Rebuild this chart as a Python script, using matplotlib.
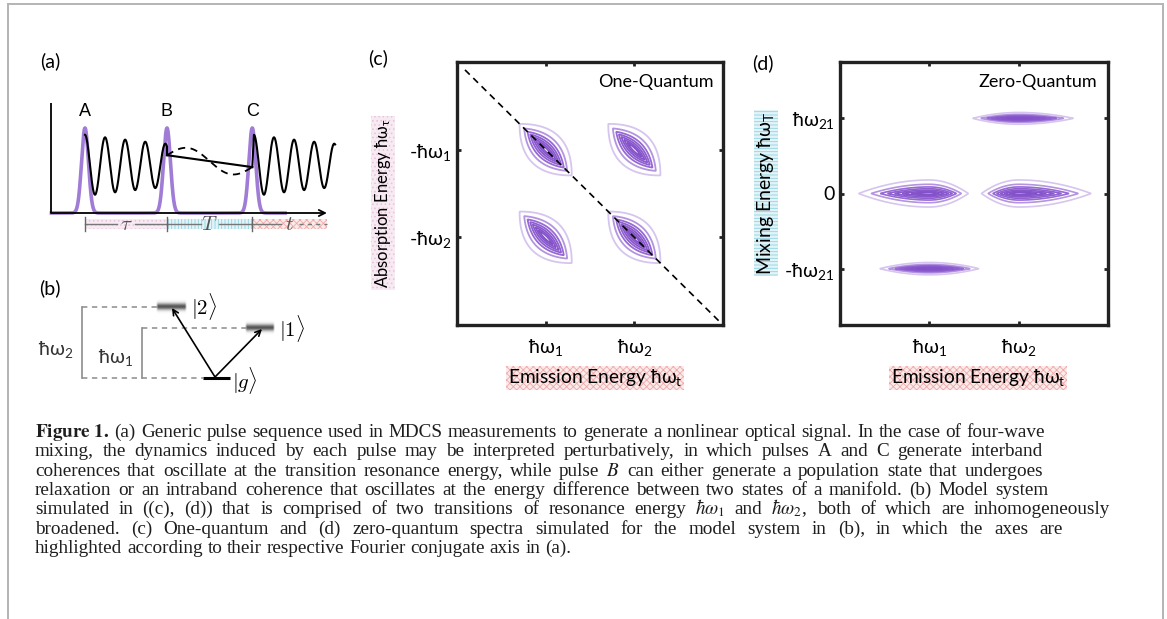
import re
import numpy as np
import matplotlib
matplotlib.use("Agg")
import matplotlib.pyplot as plt
from matplotlib.patches import Rectangle, FancyArrowPatch
from matplotlib.lines import Line2D

# ── figure geometry (pixels) ────────────────────────────────────────────────
FIG_W, FIG_H = 1167, 619

plt.rcParams["mathtext.fontset"] = "stix"
plt.rcParams["mathtext.rm"] = "Lato"
plt.rcParams["mathtext.it"] = "Lato:italic"
plt.rcParams["mathtext.bf"] = "Lato:bold"
plt.rcParams["hatch.linewidth"] = 0.6

SANS = ["Lato", "Noto Sans", "DejaVu Sans"]
SERIF = ["Liberation Serif", "DejaVu Serif"]

# ── panel (a): pulse sequence ───────────────────────────────────────────────
PULSE_T = [0.0, 1.0, 2.04]
PULSE_LABELS = ["A", "B", "C"]
PULSE_SIGMA = 0.042
OSC_PERIOD = 0.245
OSC_MEAN = 0.56
OSC_AMP = 0.36
OSC_DECAY = 0.35
POP_LEVELS = [0.68, 0.54]          # population between B and C
COH_AMP = 0.12                     # intraband coherence (dashed)
COH_PERIOD = 1.04
BAR_EDGES = [0.0, 1.0, 2.04, 2.95]
BAR_SYMBOLS = [r"$\tau$", r"$T$", r"$t$"]
BAR_FACE = ["#f8eaf3", "#e2f4f8", "#fbeaea"]
BAR_HATCH_COLOR = ["#e7c3da", "#8fd3e3", "#eeaaaa"]
BAR_HATCH = ["....", "|||||", "xxxxx"]

# ── panel (b): level scheme ─────────────────────────────────────────────────
LEVEL_NAMES = [r"$|g\rangle$", r"$|1\rangle$", r"$|2\rangle$"]
LEVEL_E = [0.0, 1.0, 1.42]
LEVEL_SPAN = [(203, 230), (247, 273), (158, 185)]   # horizontal extent, px

# ── panel (c): one-quantum spectrum ─────────────────────────────────────────
ONEQ_X = [1.0, 2.0, 1.0, 2.0]
ONEQ_Y = [-1.0, -1.0, -2.0, -2.0]
ONEQ_DIAG_W = 0.21
ONEQ_CROSS_W = 0.054

# ── panel (d): zero-quantum spectrum ────────────────────────────────────────
ZEROQ_X = [1.0, 2.0, 2.0, 1.0]
ZEROQ_Y = [0.0, 0.0, 1.0, -1.0]
ZEROQ_SL = [0.40, 0.21, 0.26, 0.28]
ZEROQ_SR = [0.22, 0.41, 0.31, 0.28]
ZEROQ_B = [0.046, 0.046, 0.02, 0.021]

LEVELS = [0.02, 0.07, 0.15, 0.25, 0.38, 0.55, 0.75]
LEVEL_COLORS = ["#d6c5ee", "#b493e0", "#9669d4", "#8f60d0", "#8a59cd",
                "#8655cb", "#8352c9"]

CAPTION = [
    r"$\mathbf{Figure\ 1.}$ (a) Generic pulse sequence used in MDCS measurements to generate a nonlinear optical signal. In the case of four-wave",
    "mixing, the dynamics induced by each pulse may be interpreted perturbatively, in which pulses A and C generate interband",
    r"coherences that oscillate at the transition resonance energy, while pulse $B$ can either generate a population state that undergoes",
    "relaxation or an intraband coherence that oscillates at the energy difference between two states of a manifold. (b) Model system",
    r"simulated in ((c), (d)) that is comprised of two transitions of resonance energy $\hbar\omega_1$ and $\hbar\omega_2$, both of which are inhomogeneously",
    "broadened. (c) One-quantum and (d) zero-quantum spectra simulated for the model system in (b), in which the axes are",
    "highlighted according to their respective Fourier conjugate axis in (a).",
]
CAPTION_RIGHT = [1045, 1043, 1043, 1048, 1110, 1063, None]   # line ends, px


def px_rect(x0, y0, x1, y1):
    return [x0 / FIG_W, 1 - y1 / FIG_H, (x1 - x0) / FIG_W, (y1 - y0) / FIG_H]


def ftext(fig, x, y, s, **kw):
    return fig.text(x / FIG_W, 1 - y / FIG_H, s, **kw)


fig = plt.figure(figsize=(FIG_W / 100, FIG_H / 100), dpi=100)

# page frame
for xs, ys in [((8, 8), (4, FIG_H)), ((8, 1163), (4, 4)), ((1163, 1163), (4, FIG_H))]:
    fig.add_artist(Line2D([x / FIG_W for x in xs], [1 - y / FIG_H for y in ys],
                          transform=fig.transFigure, color="#b4b4b4", lw=1.4))

# ── (a) ─────────────────────────────────────────────────────────────────────
ax = fig.add_axes(px_rect(45, 95, 345, 235))
ax.set_xlim((45 - 85) / 82, (345 - 85) / 82)
ax.set_ylim((213 - 235) / 85, (213 - 95) / 85)
ax.axis("off")

t0 = -0.415
t = np.linspace(-0.41, 2.44, 3000)
pulse = sum(np.exp(-(t - tp) ** 2 / (2 * PULSE_SIGMA ** 2)) for tp in PULSE_T)
ax.plot(t, pulse, color="#a07cd6", lw=2.6, zorder=2)

tA = np.linspace(PULSE_T[0], PULSE_T[1], 600)
yA = OSC_MEAN + OSC_AMP * np.exp(-OSC_DECAY * tA) * np.cos(2 * np.pi * tA / OSC_PERIOD)
ax.plot(np.r_[tA, PULSE_T[1]], np.r_[yA, POP_LEVELS[0]], color="k", lw=1.5, zorder=3)
ax.plot([PULSE_T[1], PULSE_T[2]], POP_LEVELS, color="k", lw=1.5, zorder=3)
tB = np.linspace(PULSE_T[1], PULSE_T[2], 300)
pop = np.interp(tB, [PULSE_T[1], PULSE_T[2]], POP_LEVELS)
ax.plot(tB, pop + COH_AMP * np.sin(2 * np.pi * (tB - PULSE_T[1]) / COH_PERIOD),
        color="k", lw=1.3, ls=(0, (4, 3)), zorder=3)
tC = np.linspace(PULSE_T[2] + 0.02, 3.05, 600)
yC = OSC_MEAN + OSC_AMP * np.exp(-OSC_DECAY * (tC - tC[0])) * np.cos(2 * np.pi * (tC - tC[0]) / OSC_PERIOD)
ax.plot(np.r_[PULSE_T[2], tC], np.r_[POP_LEVELS[1], yC], color="k", lw=1.5, zorder=3)

for tp, lab in zip(PULSE_T, PULSE_LABELS):
    ax.text(tp, 1.19, lab, ha="center", va="center", fontsize=13,
            family=["Liberation Sans"])

ax.plot([t0, t0], [0, 1.29], color="k", lw=1.3, solid_capstyle="butt")
ax.annotate("", xy=(2.95, 0), xytext=(t0, 0),
            arrowprops=dict(arrowstyle="->", color="k", lw=1.3,
                            shrinkA=0, shrinkB=0, mutation_scale=11))

for i in range(3):
    x0, x1 = BAR_EDGES[i], BAR_EDGES[i + 1]
    ax.add_patch(Rectangle((x0, -0.19), x1 - x0, 0.12, facecolor=BAR_FACE[i],
                           edgecolor=BAR_HATCH_COLOR[i], hatch=BAR_HATCH[i], lw=0))
    mid = 0.5 * (x0 + x1)
    ax.plot([x0, mid - 0.11], [-0.13, -0.13], color="#777", lw=1.0)
    if i < 2:
        ax.plot([mid + 0.11, x1], [-0.13, -0.13], color="#777", lw=1.0)
    else:
        ax.plot([mid + 0.11, x1], [-0.13, -0.13], color="#777", lw=1.0, ls=(0, (3, 3)))
    ax.text(mid, -0.13, BAR_SYMBOLS[i], ha="center", va="center", fontsize=15,
            color="#555", math_fontfamily="cm")
for tp in PULSE_T:
    ax.plot([tp, tp], [-0.21, -0.05], color="#666", lw=1.0)

# ── (b) ─────────────────────────────────────────────────────────────────────
bx = fig.add_axes(px_rect(30, 285, 320, 400))
bx.axis("off")
gy = np.linspace(-1, 1, 60)[:, None]
gx = np.linspace(-1, 1, 80)[None, :]
alpha = np.exp(-(gy / 0.45) ** 2) * np.clip((1 - np.abs(gx)) / 0.12, 0, 1)
blur = np.zeros((60, 80, 4))
blur[..., :3] = 0.33
blur[..., 3] = alpha
for name, e, (x0, x1) in zip(LEVEL_NAMES, LEVEL_E, LEVEL_SPAN):
    if e == 0:
        bx.plot([x0, x1], [e, e], color="k", lw=2.2, solid_capstyle="butt")
        bx.text(x1 + 2, e - 0.05, name, ha="left", va="center", fontsize=15,
                math_fontfamily="cm")
    else:
        bx.imshow(blur, extent=[x0 - 2, x1 + 2, e - 0.15, e + 0.15],
                  aspect="auto", interpolation="bilinear", zorder=1)
        bx.text(x1 + 6, e, name, ha="left", va="center", fontsize=15,
                math_fontfamily="cm")

gray = "#8c8c8c"
bx.plot([82, LEVEL_SPAN[2][0]], [LEVEL_E[2]] * 2, color=gray, lw=1.1, ls=(0, (3.5, 3)))
bx.plot([142, LEVEL_SPAN[1][0]], [LEVEL_E[1]] * 2, color=gray, lw=1.1, ls=(0, (3.5, 3)))
bx.plot([82, LEVEL_SPAN[0][0]], [LEVEL_E[0]] * 2, color=gray, lw=1.1, ls=(0, (3.5, 3)))
bx.plot([82, 82], [LEVEL_E[0], LEVEL_E[2]], color=gray, lw=1.2)
bx.plot([142, 142], [LEVEL_E[0], LEVEL_E[1]], color=gray, lw=1.2)
bx.text(56, 0.56, r"ħω$_\mathrm{2}$", ha="center", va="center", fontsize=14,
        family=SANS, color="#333", math_fontfamily="custom")
bx.text(115, 0.42, r"ħω$_\mathrm{1}$", ha="center", va="center", fontsize=14,
        family=SANS, color="#333", math_fontfamily="custom")
for tip in [(172, LEVEL_E[2] - 0.02), (262, LEVEL_E[1] - 0.02)]:
    bx.add_patch(FancyArrowPatch((215, 0.02), tip, arrowstyle="->",
                                 mutation_scale=10, lw=1.2, color="k",
                                 shrinkA=0, shrinkB=0, zorder=3))
bx.set_xlim(30, 320)
bx.set_ylim((378 - 400) / 50, (378 - 285) / 50)


# ── (c) and (d) ─────────────────────────────────────────────────────────────
def style_spectrum(a):
    for sp in a.spines.values():
        sp.set_linewidth(2.4)
        sp.set_color("#222")
    a.tick_params(direction="in", length=3, width=2, top=True, right=True,
                  labelsize=14, color="#222")
    a.tick_params(axis="x", pad=9)
    a.tick_params(axis="y", pad=4)
    for lab in a.get_xticklabels() + a.get_yticklabels():
        lab.set_family(SANS)
        lab.set_math_fontfamily("custom")


cx = fig.add_axes(px_rect(457, 62, 723, 325))
xg = np.linspace(0, 3, 800)
yg = np.linspace(-3, 0, 800)
X, Y = np.meshgrid(xg, yg)
Z = np.zeros_like(X)
for x0, y0 in zip(ONEQ_X, ONEQ_Y):
    dx, dy = X - x0, Y - y0
    u = (dx - dy) / np.sqrt(2)
    v = (dx + dy) / np.sqrt(2)
    Z += np.exp(-(u / ONEQ_DIAG_W) ** 2) * np.exp(-np.abs(v) / ONEQ_CROSS_W)
cx.contour(X, Y, Z, levels=LEVELS, colors=LEVEL_COLORS, linewidths=1.3)
cx.plot([0.09, 3], [-0.09, -3], color="k", lw=1.2, ls=(0, (4, 3)))
cx.set_xlim(0, 3)
cx.set_ylim(-3, 0)
cx.set_xticks([1, 2], [r"ħω$_\mathrm{1}$", r"ħω$_\mathrm{2}$"])
cx.set_yticks([-1, -2], [r"-ħω$_\mathrm{1}$", r"-ħω$_\mathrm{2}$"])
style_spectrum(cx)
cx.text(0.963, 0.925, "One-Quantum", transform=cx.transAxes, ha="right",
        va="center", fontsize=13, family=SANS)

dx_ax = fig.add_axes(px_rect(840, 62, 1108, 325))
xg = np.linspace(0, 3, 900)
yg = np.linspace(-1.75, 1.75, 800)
X, Y = np.meshgrid(xg, yg)
Z = np.zeros_like(X)
for x0, y0, sl, sr, b in zip(ZEROQ_X, ZEROQ_Y, ZEROQ_SL, ZEROQ_SR, ZEROQ_B):
    ddx, ddy = X - x0, Y - y0
    s = np.where(ddx < 0, sl, sr)
    Z += np.exp(-(ddx / s) ** 2) * np.exp(-np.abs(ddy) / b)
dx_ax.contour(X, Y, Z, levels=LEVELS, colors=LEVEL_COLORS, linewidths=1.2)
dx_ax.set_xlim(0, 3)
dx_ax.set_ylim(-1.75, 1.75)
dx_ax.set_xticks([1, 2], [r"ħω$_\mathrm{1}$", r"ħω$_\mathrm{2}$"])
dx_ax.set_yticks([-1, 0, 1], [r"-ħω$_\mathrm{21}$", "0", r"ħω$_\mathrm{21}$"])
style_spectrum(dx_ax)
dx_ax.text(0.96, 0.925, "Zero-Quantum", transform=dx_ax.transAxes, ha="right",
           va="center", fontsize=13, family=SANS)

# highlighted axis labels
lab_kw = dict(ha="center", va="center", family=SANS, math_fontfamily="custom")
ftext(fig, 383, 203, r"Absorption Energy ħω$_\mathrm{τ}$", rotation=90, fontsize=12,
      bbox=dict(boxstyle="square,pad=0.1", facecolor=BAR_FACE[0],
                edgecolor=BAR_HATCH_COLOR[0], hatch="....", lw=0), **lab_kw)
ftext(fig, 766, 193, r"Mixing Energy ħω$_\mathrm{T}$", rotation=90, fontsize=14,
      bbox=dict(boxstyle="square,pad=0.08", facecolor=BAR_FACE[1],
                edgecolor=BAR_HATCH_COLOR[1], hatch="-----", lw=0), **lab_kw)
for xc in (595, 978):
    ftext(fig, xc, 378, r"Emission Energy ħω$_\mathrm{t}$", fontsize=13.8,
          bbox=dict(boxstyle="square,pad=0.08", facecolor=BAR_FACE[2],
                    edgecolor=BAR_HATCH_COLOR[2], hatch="xxxxx", lw=0), **lab_kw)

# panel letters
for (xp, yp), s in zip([(50, 61), (50, 288), (378, 58), (763, 63)],
                       ["(a)", "(b)", "(c)", "(d)"]):
    ftext(fig, xp, yp, s, ha="center", va="center", fontsize=14, family=SANS)

# caption: words set one by one so each line ends where the reference does
CAP_SIZE = 13.8
cap_kw = dict(ha="left", va="baseline", fontsize=CAP_SIZE, family=SERIF,
              color="#1e1e1e", math_fontfamily="stix")
renderer = fig.canvas.get_renderer()
for i, (line, right) in enumerate(zip(CAPTION, CAPTION_RIGHT)):
    ybase = 437 + 19.3 * i
    words = re.findall(r"\$[^$]*\$\S*|[^\s$]+", line)
    arts = [ftext(fig, 35, ybase, w, **cap_kw) for w in words]
    widths = [a.get_window_extent(renderer).width for a in arts]
    if right is None:
        gap = 0.25 * CAP_SIZE * 100 / 72
    else:
        gap = (right - 35 - sum(widths)) / (len(words) - 1)
    x = 35.0
    for a, w in zip(arts, widths):
        a.set_x(x / FIG_W)
        x += w + gap

fig.savefig("out.png", dpi=100)
